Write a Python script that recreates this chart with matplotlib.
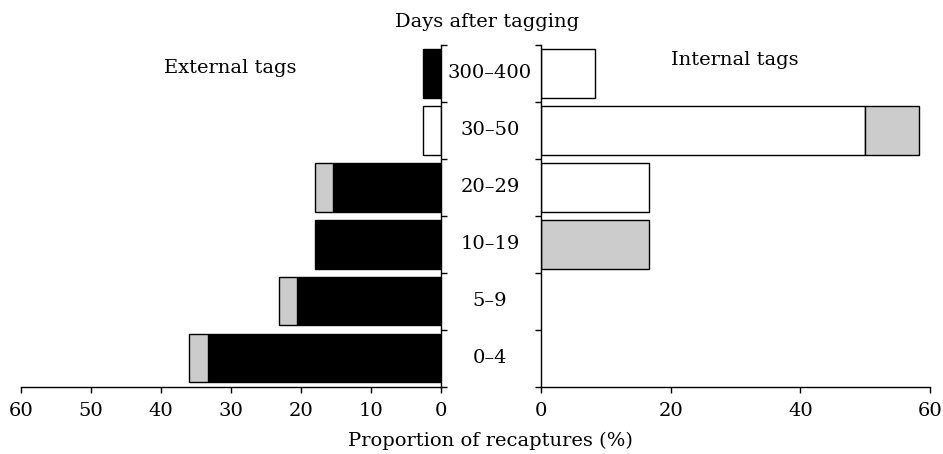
import numpy as np
import matplotlib
matplotlib.use("Agg")
import matplotlib.pyplot as plt
import matplotlib.transforms as mtrans

plt.rcParams['font.family'] = ['DejaVu Serif']

# categories bottom to top
days = ['0–4', '5–9', '10–19', '20–29', '30–50', '300–400']

# external tags (% of recaptures), stacked black -> grey, plus white
ext_black = [33.3, 20.5, 17.9, 15.4, 0, 2.6]
ext_grey = [2.6, 2.6, 0, 2.6, 0, 0]
ext_white = [0, 0, 0, 0, 2.6, 0]

# internal tags
int_white = [0, 0, 0, 16.7, 50.0, 8.3]
int_grey = [0, 0, 16.7, 0, 8.3, 0]

W, H = 943, 454
fig = plt.figure(figsize=(W / 100, H / 100), dpi=100)

ax_l = fig.add_axes([20.7 / W, 1 - 386.7 / H, 420 / W, 341.7 / H])
ax_r = fig.add_axes([541 / W, 1 - 386.7 / H, 389 / W, 341.7 / H])

y = np.arange(len(days))
bw = 0.85
kw = dict(height=bw, edgecolor='black', linewidth=1.0)

# left panel
ax_l.barh(y, ext_black, color='black', **kw)
ax_l.barh(y, ext_grey, left=ext_black, color='#cccccc', **kw)
ax_l.barh(y, ext_white, color='white', **kw)
ax_l.set_xlim(60, 0)
ax_l.set_xticks(np.arange(0, 61, 10))
ax_l.spines['left'].set_visible(False)
ax_l.yaxis.tick_right()

# right panel
ax_r.barh(y, int_white, color='white', **kw)
ax_r.barh(y, int_grey, left=int_white, color='#cccccc', **kw)
ax_r.set_xlim(0, 60)
ax_r.set_xticks([0, 20, 40, 60])
ax_r.spines['right'].set_visible(False)

for ax in (ax_l, ax_r):
    # hide zero-width bar outlines
    for p in ax.patches:
        if p.get_width() == 0:
            p.set_visible(False)
    ax.set_ylim(-0.5, len(days) - 0.5)
    ax.set_yticks(np.arange(-0.5, len(days), 1.0))
    ax.set_yticklabels([])
    ax.spines['top'].set_visible(False)
    for s in ax.spines.values():
        s.set_linewidth(1.0)
    ax.tick_params(direction='out', length=4, width=1.0, labelsize=14, pad=7)

# category labels between panels
tr = mtrans.blended_transform_factory(fig.transFigure, ax_l.transData)
for i, lab in enumerate(days):
    ax_l.text(490 / W, i, lab, ha='center', va='center', fontsize=14, transform=tr)

fig.text(487 / W, 1 - 22 / H, 'Days after tagging', ha='center', va='center', fontsize=14)
fig.text(490 / W, 1 - 441 / H, 'Proportion of recaptures (%)', ha='center', va='center', fontsize=14)
fig.text(230 / W, 1 - 68 / H, 'External tags', ha='center', va='center', fontsize=14)
fig.text(735 / W, 1 - 60 / H, 'Internal tags', ha='center', va='center', fontsize=14)

fig.savefig('out.png', dpi=100)
